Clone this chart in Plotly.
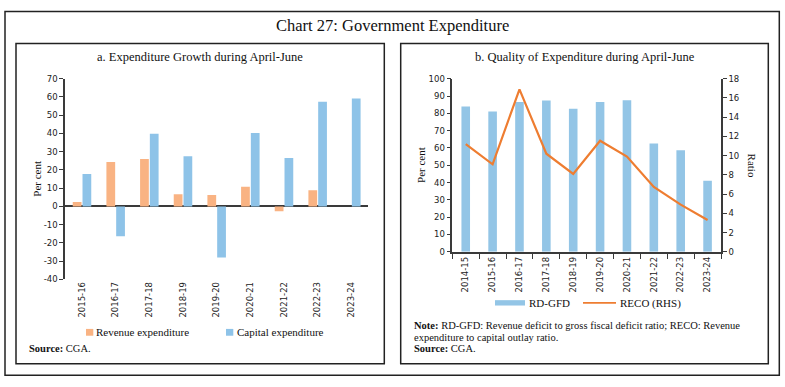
import plotly.graph_objects as go

W, H = 785, 387

# ---------------- data ----------------
years_a = ["2015-16", "2016-17", "2017-18", "2018-19", "2019-20",
           "2020-21", "2021-22", "2022-23", "2023-24"]
revenue_exp = [2.4, 24.3, 26.0, 6.7, 6.2, 10.8, -2.7, 8.9, None]
capital_exp = [17.8, -16.4, 39.8, 27.5, -28.0, 40.3, 26.5, 57.4, 59.1]

years_b = ["2014-15", "2015-16", "2016-17", "2017-18", "2018-19",
           "2019-20", "2020-21", "2021-22", "2022-23", "2023-24"]
rd_gfd = [84.0, 81.0, 86.6, 87.4, 82.6, 86.6, 87.5, 62.6, 58.6, 41.0]
reco = [11.2, 9.1, 16.9, 10.2, 8.1, 11.55, 9.9, 6.75, 4.9, 3.3]

ticks_a = [-40, -30, -20, -10, 0, 10, 20, 30, 40, 50, 60, 70]
ticklabels_a = ["-40", "-30", "-20", "-10", "0", "10", "20", "30", "40",
                "50", "60", "70"]

# ---------------- helpers ----------------
def X(px):
    return px / W

def Y(py):
    return 1 - py / H

SERIF = "Liberation Serif"
SANS = "DejaVu Sans"
AX = "#3a3a3a"
C_REV = "#F9B383"
C_CAP = "#8EC3E8"
C_RD = "#93C5E6"
C_RECO = "#EE7D31"

fig = go.Figure()

fig.add_trace(go.Bar(x=years_a, y=revenue_exp, name="Revenue expenditure",
                     marker=dict(color=C_REV, line=dict(width=0)),
                     width=0.26, offset=-0.27, xaxis="x", yaxis="y",
                     showlegend=False))
fig.add_trace(go.Bar(x=years_a, y=capital_exp, name="Capital expenditure",
                     marker=dict(color=C_CAP, line=dict(width=0)),
                     width=0.26, offset=0.02, xaxis="x", yaxis="y",
                     showlegend=False))
fig.add_trace(go.Bar(x=years_b, y=rd_gfd, name="RD-GFD",
                     marker=dict(color=C_RD, line=dict(width=0)),
                     width=0.32, xaxis="x2", yaxis="y2", showlegend=False))
fig.add_trace(go.Scatter(x=years_b, y=reco, name="RECO (RHS)", mode="lines",
                         line=dict(color=C_RECO, width=2.2),
                         xaxis="x2", yaxis="y3", showlegend=False))

tickfont = dict(family=SANS, size=8.5, color="#222")

fig.update_layout(
    width=W, height=H,
    margin=dict(l=0, r=0, t=0, b=0),
    paper_bgcolor="white", plot_bgcolor="white",
    xaxis=dict(domain=[X(65), X(368)], anchor="y", type="category",
               showline=False, ticks="", tickangle=-90, tickfont=tickfont,
               showgrid=False, zeroline=False),
    yaxis=dict(domain=[Y(281.6), Y(75.7)], anchor="x", range=[-40, 70],
               tickvals=ticks_a, ticktext=ticklabels_a,
               showline=True, linecolor=AX, linewidth=1.5,
               ticks="outside", ticklen=4, tickcolor=AX, tickfont=tickfont,
               showgrid=False, zeroline=True, zerolinecolor=AX,
               zerolinewidth=2),
    xaxis2=dict(domain=[X(452.3), X(721)], anchor="y2", type="category",
                showline=True, linecolor=AX, linewidth=1.5,
                ticks="outside", ticklen=5, tickcolor=AX, tickson="boundaries",
                tickangle=-90, tickfont=tickfont, showgrid=False,
                zeroline=False),
    yaxis2=dict(domain=[Y(253.3), Y(75.7)], anchor="x2", range=[0, 100],
                dtick=10, showline=True, linecolor=AX, linewidth=1.5,
                ticks="outside", ticklen=4, tickcolor=AX, tickfont=tickfont,
                showgrid=False, zeroline=False),
    yaxis3=dict(overlaying="y2", side="right", anchor="x2", range=[0, 18],
                dtick=2, showline=True, linecolor=AX, linewidth=1.5,
                ticks="outside", ticklen=4, tickcolor=AX, tickfont=tickfont,
                showgrid=False, zeroline=False),
    showlegend=False,
)

# ---------------- frames ----------------
shapes = []
def rect(x0, y0, x1, y1, **kw):
    shapes.append(dict(type="rect", xref="paper", yref="paper",
                       x0=X(x0), x1=X(x1), y0=Y(y0), y1=Y(y1), **kw))

rect(5, 6.7, 779.3, 380, line=dict(color="#222", width=1.5))
rect(16, 39.5, 384.3, 368.3, line=dict(color="#222", width=1.5))
rect(400.7, 39.5, 768.3, 368.3, line=dict(color="#222", width=1.5))

# legend swatches
rect(86, 332.5, 93.3, 339.5, fillcolor=C_REV, line=dict(width=0))
rect(226, 332.5, 233.3, 339.5, fillcolor=C_CAP, line=dict(width=0))
rect(495, 303, 525, 308.5, fillcolor=C_RD, line=dict(width=0))
shapes.append(dict(type="line", xref="paper", yref="paper",
                   x0=X(583), x1=X(616), y0=Y(305.7), y1=Y(305.7),
                   line=dict(color=C_RECO, width=1.8)))
fig.update_layout(shapes=shapes)

# ---------------- texts ----------------
ann = []
def text(s, x, y, size, xanchor="center", angle=0, family=SERIF,
         color="#111"):
    ann.append(dict(text=s, x=X(x), y=Y(y), xref="paper", yref="paper",
                    xanchor=xanchor, yanchor="middle", showarrow=False,
                    textangle=angle, font=dict(family=family, size=size,
                                               color=color)))

text("Chart 27: Government Expenditure", 392, 21, 16.5)
text("a. Expenditure Growth during April-June", 200, 53, 12.5)
text("b. Quality of Expenditure during April-June", 584.5, 53, 12.5)

text("Per cent", 36.7, 178.6, 11, angle=-90)
text("Per cent", 421.7, 164.5, 11, angle=-90)
text("Ratio", 751.7, 164.5, 11, angle=90)

text("Revenue expenditure", 94.3, 336, 11, xanchor="left")
text("Capital expenditure", 234.5, 336, 11, xanchor="left")
text("RD-GFD", 526.5, 306, 11, xanchor="left")
text("RECO (RHS)", 617.5, 306, 11, xanchor="left")

text("<b>Source:</b> CGA.", 27, 352.7, 10.5, xanchor="left")
text("<b>Note:</b> RD-GFD: Revenue deficit to gross fiscal deficit ratio; "
     "RECO: Revenue", 412, 329.5, 10.5, xanchor="left")
text("expenditure to capital outlay ratio.", 412, 341, 10.5, xanchor="left")
text("<b>Source:</b> CGA.", 412, 352.7, 10.5, xanchor="left")

fig.update_layout(annotations=ann)

fig.write_html("out.html",
               config={"displayModeBar": False},
               post_script="document.body.style.margin='0';"
                           "document.body.style.overflow='hidden';")
